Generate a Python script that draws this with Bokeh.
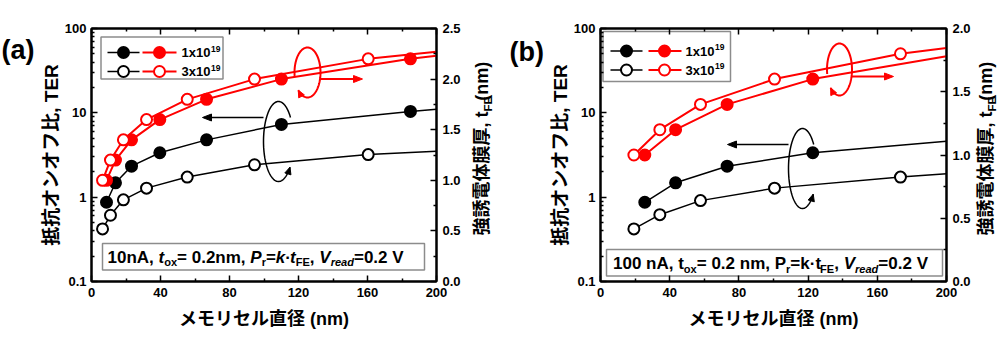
import numpy as np
from bokeh.plotting import figure
from bokeh.models import (Range1d, LinearAxis, LinearScale, FixedTicker, CustomJSTickFormatter,
                          PrintfTickFormatter, Label)
from bokeh.layouts import row
from bokeh.embed import file_html
from bokeh.resources import INLINE

# ---------------- data ----------------
X_END = 200
# panel (a): 10 nA
d_filled_a = [8.7, 13.9, 23.2, 39.6, 66.7, 110.1, 184.9]
ter_filled_a = [0.87, 1.48, 2.33, 3.36, 4.78, 7.28, 10.4]
tfe_filled_a = [1.0, 1.2, 1.4, 1.6, 1.8, 2.0, 2.2]
d_open_a = [6.4, 11.0, 18.5, 31.9, 55.5, 94.5, 160.4]
ter_open_a = [0.42, 0.61, 0.93, 1.28, 1.73, 2.42, 3.2]
tfe_open_a = [1.0, 1.2, 1.4, 1.6, 1.8, 2.0, 2.2]
# curve values at the right edge (x = 200)
end_ter_filled_a, end_ter_open_a = 11.0, 3.5
end_tfe_filled_a, end_tfe_open_a = 2.23, 2.27

# panel (b): 100 nA
d_filled_b = [25.6, 43.4, 73.2, 122.7]
ter_filled_b = [0.87, 1.48, 2.33, 3.36]
tfe_filled_b = [1.0, 1.2, 1.4, 1.6]
d_open_b = [19.3, 34.3, 57.8, 100.6, 173.4]
ter_open_b = [0.42, 0.62, 0.91, 1.28, 1.73]
tfe_open_b = [1.0, 1.2, 1.4, 1.6, 1.8]
end_ter_filled_b, end_ter_open_b = 4.6, 1.89
end_tfe_filled_b, end_tfe_open_b = 1.78, 1.845

x_ticks = [0, 40, 80, 120, 160, 200]
x_minor = [20, 60, 100, 140, 180]
ter_ticks = [0.1, 1, 10, 100]
legend_labels = ["1x10", "3x10"]
legend_sup = "19"
xlabel = "メモリセル直径 (nm)"
ylabel_left = "抵抗オンオフ比, TER"
ylabel_right = ["強誘電体膜厚, t", "FE", " (nm)"]
note_a = [("10nA, ", "n", False), ("t", "n", True), ("ox", "sub", False), ("= 0.2nm, ", "n", False),
          ("P", "n", True), ("r", "sub", False), ("=", "n", False), ("k", "n", True), ("·", "n", False),
          ("t", "n", True), ("FE", "sub", False), (", ", "n", False), ("V", "n", True),
          ("read", "sub", True), ("=0.2 V", "n", False)]
note_b = [("100 nA, ", "n", False), ("t", "n", False), ("ox", "sub", False), ("= 0.2 nm, ", "n", False),
          ("P", "n", False), ("r", "sub", False), ("=k·t", "n", False), ("FE", "sub", False),
          (", ", "n", False), ("V", "n", True), ("read", "sub", True), ("=0.2 V", "n", False)]

# ---------------- styling ----------------
FONT = "'Liberation Sans', 'Noto Sans CJK JP', sans-serif"
RED = "#ff0000"
GRAY = "#8c8c8c"
SUB = 0.65
W = {' ': .278, ',': .278, '.': .278, '(': .333, ')': .333, '=': .584, '·': .278,
     'A': .722, 'E': .667, 'F': .611, 'P': .667, 'R': .722, 'T': .611, 'V': .667,
     'a': .556, 'd': .611, 'e': .556, 'k': .556, 'm': .889, 'n': .611, 'o': .611,
     'r': .389, 't': .333, 'x': .556, 'b': .611}
for _c in "0123456789":
    W[_c] = .556


def tw(s):
    return sum(W.get(ch, 1.0) for ch in s)


FT, FB, H = 28, 281, 350  # frame top / bottom, canvas height (window pixels)


def add_runs(p, items, x0, y0, size, **kw):
    """Lay out horizontal text runs centred ('middle') on the line y0; y axis points up."""
    pos = 0.0
    for text, kind, italic in items:
        s = size * SUB if kind == "sub" else size
        dv = -0.32 * size if kind == "sub" else 0.0
        p.add_layout(Label(x=x0 + pos, y=y0 + dv, text=text, text_font=FONT,
                           text_font_style="bold italic" if italic else "bold",
                           text_font_size=f"{s:.2f}px", text_baseline="middle", text_align="left",
                           text_color="black", **kw))
        pos += tw(text) * s


def text_fig(x0, x1):
    """A plain figure covering window columns x0..x1; data x = window px, data y = H - window py."""
    w = x1 - x0
    f = figure(width=w, height=H, x_range=Range1d(x0, x1), y_range=Range1d(0, H), title=None,
               output_backend="svg", toolbar_location=None, x_axis_location=None, y_axis_location=None,
               min_border=0, min_border_left=0, min_border_right=0, min_border_top=0, min_border_bottom=0)
    f.xgrid.visible = False
    f.ygrid.visible = False
    f.outline_line_color = None
    f.background_fill_color = "white"
    f.border_fill_color = "white"
    return f


def make_panel(cfg):
    fl, fr, tmax = cfg["fl"], cfg["fr"], cfg["tmax"]
    mx0, mx1 = cfg["m"]
    fw, fh = fr - fl, FB - FT

    # ---------- left text strip: panel letter ----------
    L = text_fig(cfg["lx0"], mx0)
    L.add_layout(Label(x=cfg["panel_x"], y=H - cfg["panel_mid"], text=cfg["panel"], text_font=FONT,
                       text_font_style="bold", text_font_size="27px", text_baseline="middle",
                       text_color="black"))

    # ---------- right text strip: right axis title (reads bottom to top) ----------
    R = text_fig(mx1, cfg["rx1"])
    size = 18
    cx = cfg["yr_x"]
    y_nm = H - cfg["yr_top"] - tw(ylabel_right[2]) * size          # start of " (nm)"
    y_fe = y_nm - tw(ylabel_right[1]) * size * SUB                   # start of "FE"
    common = dict(text_font=FONT, text_font_style="bold", text_baseline="middle", angle=np.pi / 2,
                  text_color="black")
    R.add_layout(Label(x=cx, y=y_fe, text=ylabel_right[0], text_align="right",
                       text_font_size=f"{size}px", **common))
    R.add_layout(Label(x=cx + 0.32 * size, y=y_fe, text=ylabel_right[1], text_align="left",
                       text_font_size=f"{size * SUB:.2f}px", **common))
    R.add_layout(Label(x=cx, y=y_nm, text=ylabel_right[2], text_align="left",
                       text_font_size=f"{size}px", **common))

    # ---------- main plot ----------
    p = figure(width=mx1 - mx0, height=H, x_range=Range1d(0, X_END), y_range=Range1d(0.1, 100),
               y_axis_type="log", output_backend="svg", toolbar_location=None, title=None,
               min_border_left=fl - mx0, min_border_right=mx1 - fr,
               min_border_top=FT, min_border_bottom=H - FB)
    p.extra_y_ranges = {"t": Range1d(0, tmax), "py": Range1d(0, fh)}
    p.extra_y_scales = {"t": LinearScale(), "py": LinearScale()}
    p.extra_x_ranges = {"px": Range1d(0, fw)}
    p.extra_x_scales = {"px": LinearScale()}
    p.xgrid.visible = False
    p.ygrid.visible = False
    p.outline_line_color = "black"
    p.outline_line_width = 2
    p.background_fill_color = "white"
    p.border_fill_color = "white"

    def style(ax):
        ax.axis_line_width = 2
        ax.major_tick_in = 6
        ax.major_tick_out = 0
        ax.minor_tick_in = 3
        ax.minor_tick_out = 0
        ax.major_tick_line_width = 1.5
        ax.minor_tick_line_width = 1.5
        ax.major_label_text_font = FONT
        ax.major_label_text_font_style = "bold"
        ax.major_label_text_font_size = "13px"
        ax.major_label_text_color = "black"

    p.xaxis.ticker = FixedTicker(ticks=x_ticks, minor_ticks=x_minor)
    p.xaxis.major_label_standoff = 6
    style(p.xaxis[0])
    p.xaxis.axis_label = xlabel
    p.xaxis.axis_label_text_font = FONT
    p.xaxis.axis_label_text_font_style = "bold"
    p.xaxis.axis_label_text_font_size = "18px"
    p.xaxis.axis_label_text_color = "black"
    p.xaxis.axis_label_standoff = 9

    minor_log = [k * 10.0 ** e for e in (-1, 0, 1) for k in range(2, 10)]
    p.yaxis.ticker = FixedTicker(ticks=ter_ticks, minor_ticks=minor_log)
    p.yaxis.formatter = CustomJSTickFormatter(code="return tick < 1 ? tick.toFixed(1) : tick.toFixed(0);")
    p.yaxis.major_label_standoff = 5
    style(p.yaxis[0])
    p.yaxis.axis_label = ylabel_left
    p.yaxis.axis_label_text_font = FONT
    p.yaxis.axis_label_text_font_style = "bold"
    p.yaxis.axis_label_text_font_size = "19px"
    p.yaxis.axis_label_text_color = "black"
    p.yaxis.axis_label_standoff = 0

    tt = list(np.arange(0, tmax + 1e-9, 0.5))
    tm = [v + 0.25 for v in tt[:-1]]
    ra = LinearAxis(y_range_name="t", ticker=FixedTicker(ticks=tt, minor_ticks=tm),
                    formatter=PrintfTickFormatter(format="%.1f"))
    style(ra)
    ra.major_label_standoff = 6
    p.add_layout(ra, "right")
    ta = LinearAxis(ticker=FixedTicker(ticks=x_ticks, minor_ticks=x_minor),
                    formatter=CustomJSTickFormatter(code="return '';"))
    style(ta)
    ta.major_label_text_font_size = "1px"
    ta.major_label_standoff = 0
    p.add_layout(ta, "above")

    def PX(sx):
        return np.asarray(sx, dtype=float) - fl

    def PY(sy):
        return FB - np.asarray(sy, dtype=float)

    # ---- data curves ----
    d_f, d_o = cfg["d_filled"], cfg["d_open"]
    p.line(d_f + [X_END], cfg["ter_filled"] + [cfg["end_ter_filled"]], color="black", line_width=1.5)
    p.line(d_o + [X_END], cfg["ter_open"] + [cfg["end_ter_open"]], color="black", line_width=1.5)
    p.line(d_f + [X_END], cfg["tfe_filled"] + [cfg["end_tfe_filled"]], color=RED, line_width=2, y_range_name="t")
    p.line(d_o + [X_END], cfg["tfe_open"] + [cfg["end_tfe_open"]], color=RED, line_width=2, y_range_name="t")
    p.scatter(d_f, cfg["ter_filled"], size=11, fill_color="black", line_color="black", line_width=2)
    p.scatter(d_o, cfg["ter_open"], size=11, fill_color="white", line_color="black", line_width=2)
    p.scatter(d_f, cfg["tfe_filled"], size=11, fill_color=RED, line_color=RED, line_width=2, y_range_name="t")
    p.scatter(d_o, cfg["tfe_open"], size=11, fill_color="white", line_color=RED, line_width=2, y_range_name="t")

    kw = dict(x_range_name="px", y_range_name="py")

    # ---- legend ----
    lg = cfg["legend"]
    p.quad(left=float(PX(lg["l"])), right=float(PX(lg["r"])), top=float(PY(lg["t"])), bottom=float(PY(lg["b"])),
           fill_color="white", line_color=GRAY, line_width=1.5, **kw)
    for i, yy in enumerate(lg["rows"]):
        fill_b = "black" if i == 0 else "white"
        fill_r = RED if i == 0 else "white"
        p.line(list(PX(lg["bl"])), [float(PY(yy))] * 2, color="black", line_width=1.5, **kw)
        p.line(list(PX(lg["rl"])), [float(PY(yy))] * 2, color=RED, line_width=2, **kw)
        p.scatter([float(PX(lg["bm"]))], [float(PY(yy))], size=11, fill_color=fill_b, line_color="black",
                  line_width=2, **kw)
        p.scatter([float(PX(lg["rm"]))], [float(PY(yy))], size=11, fill_color=fill_r, line_color=RED,
                  line_width=2, **kw)
        mid = float(PY(yy))
        p.add_layout(Label(x=float(PX(lg["tx"])), y=mid, text=legend_labels[i], text_font=FONT,
                           text_font_style="bold", text_font_size="13px", text_baseline="middle",
                           text_color="black", **kw))
        p.add_layout(Label(x=float(PX(lg["tx"])) + tw(legend_labels[i]) * 13 + 0.5, y=mid + 4,
                           text=legend_sup, text_font=FONT, text_font_style="bold", text_font_size="8.5px",
                           text_baseline="middle", text_color="black", **kw))

    # ---- note box ----
    nb = cfg["note_box"]
    p.quad(left=float(PX(nb["l"])), right=float(PX(nb["r"])), top=float(PY(nb["t"])), bottom=float(PY(nb["b"])),
           fill_color="white", line_color=GRAY, line_width=1.5, **kw)
    add_runs(p, cfg["note"], float(PX(nb["tx"])), float(PY(nb["mid"])), 17, **kw)

    # ---- rotation ellipses and arrows (arrowheads as patches) ----
    def head(tipx, tipy, ux, uy, c, L_=8.0, hw=3.5):
        n = np.hypot(ux, uy)
        ux, uy = ux / n, uy / n
        bx, by = tipx - L_ * ux, tipy - L_ * uy
        nx, ny = -uy, ux
        p.patch([tipx, bx + hw * nx, bx - hw * nx], [tipy, by + hw * ny, by - hw * ny],
                fill_color=c, line_color=c, line_width=1, **kw)

    for e in cfg["ellipses"]:
        th = np.radians(np.linspace(e["a0"], e["a1"], 120))
        sx = e["cx"] + e["rx"] * np.cos(th)
        sy = e["cy"] - e["ry"] * np.sin(th)
        p.line(list(PX(sx)), list(PY(sy)), color=e["c"], line_width=e["w"], **kw)
        a1 = np.radians(e["a1"])
        sgn = 1.0 if e["a1"] > e["a0"] else -1.0
        ux = -e["rx"] * np.sin(a1) * sgn
        uy = e["ry"] * np.cos(a1) * sgn
        head(float(PX(sx[-1])), float(PY(sy[-1])), ux, uy, e["c"], L_=7, hw=3.2)
    for a in cfg["arrows"]:
        x0, x1 = float(PX(a["x0"])), float(PX(a["x1"]))
        y = float(PY(a["y"]))
        sgn = 1.0 if x1 > x0 else -1.0
        p.line([x0, x1 - sgn * 6], [y, y], color=a["c"], line_width=a["w"], **kw)
        head(x1, y, sgn, 0.0, a["c"], L_=9, hw=3.5)
    return [L, p, R]


cfg_a = dict(lx0=0, m=(36, 466), rx1=500, fl=91, fr=436, tmax=2.5,
             d_filled=d_filled_a, ter_filled=ter_filled_a, tfe_filled=tfe_filled_a,
             d_open=d_open_a, ter_open=ter_open_a, tfe_open=tfe_open_a,
             end_ter_filled=end_ter_filled_a, end_ter_open=end_ter_open_a,
             end_tfe_filled=end_tfe_filled_a, end_tfe_open=end_tfe_open_a,
             legend=dict(l=100.5, r=222.5, t=36.5, b=78.5, rows=[52, 71], bl=(107, 139), bm=123,
                         rl=(142, 176), rm=159, tx=181),
             note_box=dict(l=102, r=424, t=243, b=269.5, tx=107, mid=256.5), note=note_a,
             ellipses=[dict(cx=307, cy=72, rx=13, ry=25, a0=190, a1=-135, c=RED, w=2),
                       dict(cx=278, cy=141, rx=15, ry=40, a0=37, a1=320, c="black", w=1.5)],
             arrows=[dict(x0=263, x1=202, y=117, c="black", w=1.5),
                     dict(x0=320, x1=362, y=78.5, c=RED, w=2)],
             panel="(a)", panel_x=1, panel_mid=29.5, yr_x=481, yr_top=56)

cfg_b = dict(lx0=500, m=(545, 973), rx1=1000, fl=600, fr=946, tmax=2.0,
             d_filled=d_filled_b, ter_filled=ter_filled_b, tfe_filled=tfe_filled_b,
             d_open=d_open_b, ter_open=ter_open_b, tfe_open=tfe_open_b,
             end_ter_filled=end_ter_filled_b, end_ter_open=end_ter_open_b,
             end_tfe_filled=end_tfe_filled_b, end_tfe_open=end_tfe_open_b,
             legend=dict(l=602.5, r=730, t=31, b=81, rows=[50.5, 69.5], bl=(610, 642), bm=626,
                         rl=(648, 681), rm=664, tx=685),
             note_box=dict(l=606, r=942, t=249, b=275.5, tx=612.5, mid=263), note=note_b,
             ellipses=[dict(cx=839, cy=69, rx=12.5, ry=26, a0=190, a1=-135, c=RED, w=2),
                       dict(cx=802, cy=168, rx=14, ry=40, a0=37, a1=320, c="black", w=1.5)],
             arrows=[dict(x0=788, x1=727, y=144, c="black", w=1.5),
                     dict(x0=851.5, x1=893, y=76, c=RED, w=2)],
             panel="(b)", panel_x=509, panel_mid=33, yr_x=985.5, yr_top=56)

figs = make_panel(cfg_a) + make_panel(cfg_b)
layout = row(*figs, spacing=0)
open("out.html", "w").write(file_html(layout, INLINE))
